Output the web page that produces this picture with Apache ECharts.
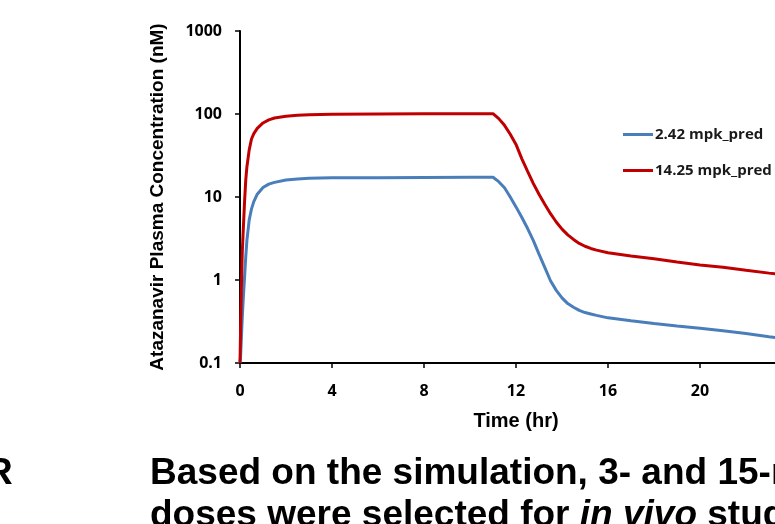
<!DOCTYPE html>
<html>
<head>
<meta charset="utf-8">
<script src="https://cdn.jsdelivr.net/npm/echarts@6/dist/echarts.min.js"></script>
<style>
  html, body { margin: 0; padding: 0; background: #fff; overflow: hidden; }
  #chart { width: 775px; height: 524px; }
</style>
</head>
<body>
<div id="chart"></div>
<script>
// time points (hr)
const timeHr = [0, 0.025, 0.05, 0.075, 0.1, 0.15, 0.2, 0.25, 0.3, 0.4, 0.5, 0.6, 0.75, 1, 1.25, 1.5, 2, 2.5, 3, 4, 6, 8, 10, 11,
  11.25, 11.5, 11.75, 12, 12.25, 12.5, 12.75, 13, 13.25, 13.5, 13.75, 14, 14.25, 14.5, 14.75, 15, 15.25, 15.5, 16,
  17, 18, 19, 20, 21, 22, 23, 24];
// 2.42 mpk predicted concentration (nM)
const lowDose = [0.1, 0.12, 0.17, 0.25, 0.36, 0.65, 1.1, 1.9, 3.0, 5.3, 7.2, 8.8, 10.8, 13, 14.3, 15, 16, 16.5, 16.8, 17, 17.1, 17.2, 17.3, 17.3,
  15.3, 12.9, 10.0, 7.6, 5.7, 4.2, 3.0, 2.05, 1.42, 0.98, 0.75, 0.61, 0.52, 0.47, 0.43, 0.405, 0.39, 0.375, 0.35,
  0.323, 0.3, 0.28, 0.263, 0.245, 0.226, 0.207, 0.19];
// 14.25 mpk predicted concentration (nM)
const highDose = [0.1, 0.25, 0.6, 1.2, 2.2, 4.5, 9, 16, 23, 37, 50, 58, 67, 78, 85, 89.5, 94, 96.5, 98, 99, 100, 100.5, 101, 101,
  88, 73, 57, 43, 29, 20.5, 14.6, 10.8, 8.2, 6.3, 5.0, 4.1, 3.5, 3.08, 2.76, 2.55, 2.40, 2.29, 2.13,
  1.95, 1.8, 1.65, 1.52, 1.42, 1.31, 1.21, 1.12];
const seriesNames = ['2.42 mpk_pred', '14.25 mpk_pred'];
const yTicks = [0.1, 1, 10, 100, 1000];

const chart = echarts.init(document.getElementById('chart'));

function pairs(ys) {
  return timeHr.map((t, i) => [t, ys[i]]);
}

const option = {
  animation: false,
  grid: { left: 240, top: 31, width: 552, height: 332, outerBoundsMode: 'none', containLabel: false },
  legend: {
    orient: 'vertical',
    left: 623,
    top: 127,
    padding: 0,
    itemGap: 21,
    itemWidth: 30,
    itemHeight: 3,
    icon: 'rect',
    textStyle: { fontFamily: 'Open Sans', fontWeight: 'bold', fontSize: 15, color: '#1a1a1a', padding: [0, 0, 0, -3] },
    data: seriesNames
  },
  xAxis: {
    type: 'value',
    min: 0, max: 24, interval: 4,
    name: 'Time (hr)',
    nameLocation: 'middle',
    nameGap: 48,
    nameTextStyle: { fontFamily: 'Liberation Sans', fontWeight: 'bold', fontSize: 20, color: '#000' },
    axisLine: { lineStyle: { color: '#000', width: 2 } },
    axisTick: { show: true, length: 5, lineStyle: { color: '#000', width: 1.5 } },
    axisLabel: { margin: 20, fontFamily: 'Open Sans', fontWeight: 'bold', fontSize: 16, color: '#000' },
    splitLine: { show: false }
  },
  yAxis: {
    type: 'log',
    logBase: 10,
    min: 0.1, max: 1000,
    name: 'Atazanavir Plasma Concentration (nM)',
    nameLocation: 'middle',
    nameRotate: 90,
    nameGap: 73,
    nameTextStyle: { fontFamily: 'Liberation Sans', fontWeight: 'bold', fontSize: 19, color: '#000' },
    axisLine: { show: true, lineStyle: { color: '#000', width: 2 } },
    axisTick: { show: true, length: 5, lineStyle: { color: '#000', width: 1.5 } },
    axisLabel: {
      margin: 18, fontFamily: 'Open Sans', fontWeight: 'bold', fontSize: 16, color: '#000',
      formatter: v => {
        const hit = yTicks.find(t => Math.abs(t - v) / t < 1e-6);
        return hit !== undefined ? String(hit) : '';
      }
    },
    splitLine: { show: false }
  },
  graphic: [
    {
      type: 'text', left: -14, top: 455,
      style: { text: 'R', font: 'bold 37px "Liberation Sans"', fill: '#000' }
    },
    {
      type: 'text', left: 150, top: 455,
      style: {
        text: '{n|Based on the simulation, 3- and 15-mpk}\n{n|doses were selected for }{i|in vivo}{n| studies}',
        font: 'bold 37px "Liberation Sans"',
        fill: '#000',
        rich: {
          n: { font: 'bold 37px "Liberation Sans"', fill: '#000', lineHeight: 42 },
          i: { font: 'italic bold 37px "Liberation Sans"', fill: '#000', lineHeight: 42 }
        }
      }
    }
  ],
  series: [
    {
      name: seriesNames[0],
      type: 'line',
      data: pairs(lowDose),
      showSymbol: false,
      symbol: 'none',
      lineStyle: { color: '#4a7ebb', width: 3 },
      itemStyle: { color: '#4a7ebb' }
    },
    {
      name: seriesNames[1],
      type: 'line',
      data: pairs(highDose),
      showSymbol: false,
      symbol: 'none',
      lineStyle: { color: '#c00000', width: 3 },
      itemStyle: { color: '#c00000' }
    }
  ]
};

chart.setOption(option);
</script>
</body>
</html>
